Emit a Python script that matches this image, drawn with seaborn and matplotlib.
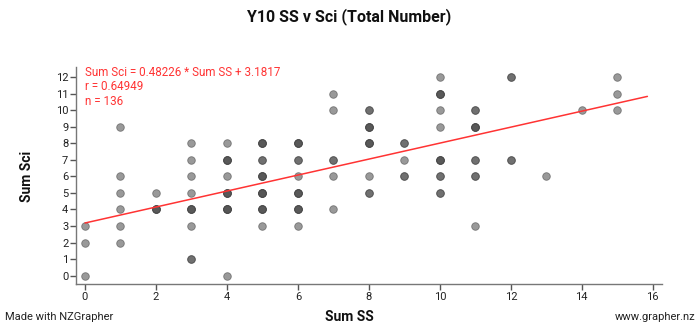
import numpy as np
import pandas as pd
import matplotlib
matplotlib.use("Agg")
import matplotlib.pyplot as plt
import seaborn as sns

# Unique (Sum SS, Sum Sci) locations with estimated counts (overlap darkness)
ss_vals = [0, 0, 0,
           1, 1, 1, 1, 1, 1,
           2, 2,
           3, 3, 3, 3, 3, 3, 3,
           4, 4, 4, 4, 4, 4,
           5, 5, 5, 5, 5, 5,
           6, 6, 6, 6, 6, 6,
           7, 7, 7, 7, 7,
           8, 8, 8, 8, 8,
           9, 9, 9,
           10, 10, 10, 10, 10, 10, 10,
           11, 11, 11, 11, 11,
           12, 12,
           13, 14,
           15, 15, 15]
sci_vals = [3, 2, 0,
            9, 6, 5, 4, 3, 2,
            5, 4,
            8, 7, 6, 5, 4, 3, 1,
            8, 7, 6, 5, 4, 0,
            8, 7, 6, 5, 4, 3,
            8, 7, 6, 5, 4, 3,
            11, 10, 7, 6, 4,
            10, 9, 8, 6, 5,
            8, 7, 6,
            12, 11, 10, 9, 7, 6, 5,
            10, 9, 7, 6, 3,
            12, 7,
            6, 10,
            12, 11, 10]
counts = [1, 1, 1,
          1, 1, 1, 1, 1, 1,
          1, 4,
          1, 1, 1, 1, 4, 1, 2,
          1, 4, 1, 4, 5, 1,
          4, 2, 4, 5, 4, 1,
          4, 2, 1, 4, 4, 1,
          1, 1, 2, 1, 1,
          2, 4, 4, 1, 2,
          2, 1, 2,
          1, 4, 1, 1, 4, 2, 2,
          2, 4, 2, 2, 1,
          2, 2,
          1, 1,
          1, 1, 1]

slope = 0.48226
intercept = 3.1817
r_value = 0.64949
x_ticks = list(range(0, 17, 2))
y_ticks = list(range(0, 13))

df = pd.DataFrame({"Sum SS": np.repeat(ss_vals, counts),
                   "Sum Sci": np.repeat(sci_vals, counts)})
n = len(df)

sns.set_style("white")
plt.rcParams['font.family'] = ['Roboto', 'DejaVu Sans']

fig = plt.figure(figsize=(6.99, 3.28), dpi=100)
ax = fig.add_axes([0.1087, 0.1332, 0.9475 - 0.1087, 0.7957 - 0.1332])

sns.scatterplot(data=df, x="Sum SS", y="Sum Sci", ax=ax, color="#555555",
                alpha=0.6, s=30, edgecolor="#444444", linewidth=0.6, zorder=2)

xl = np.array([0, 15.85])
ax.plot(xl, slope * xl + intercept, color="#ff3333", lw=1.1, zorder=3)

ax.set_xlim(-0.254, 16.27)
ax.set_ylim(-0.52, 12.6)
ax.set_xticks(x_ticks)
ax.set_yticks(y_ticks)
for s in ["top", "right"]:
    ax.spines[s].set_visible(False)
for s in ["left", "bottom"]:
    ax.spines[s].set_color("#777777")
    ax.spines[s].set_linewidth(1.0)
ax.tick_params(axis="both", which="major", direction="out", length=4, width=1,
               color="#555555", labelsize=8, labelcolor="#222222", pad=1.5,
               left=True, bottom=True)
ax.set_xlabel("")
ax.set_ylabel("")

fig.text(85 / 699, 1 - 66 / 328,
         f"Sum Sci = {slope} * Sum SS + {intercept}\nr = {r_value}\nn = {n}",
         color="#ff3333", fontsize=8.4, va="top", ha="left", linespacing=1.15)
fig.text(0.5, 1 - 17 / 328, "Y10 SS v Sci (Total Number)", ha="center", va="center",
         fontsize=11.5, fontweight="bold", color="#111111")
fig.text(0.5, 1 - 317 / 328, "Sum SS", ha="center", va="center",
         fontsize=10, fontweight="bold", color="#111111")
fig.text(27 / 699, 1 - 176 / 328, "Sum Sci", ha="center", va="center", rotation=90,
         fontsize=10, fontweight="bold", color="#111111")
fig.text(5 / 699, 1 - 317 / 328, "Made with NZGrapher", ha="left", va="center",
         fontsize=8, color="#222222")
fig.text(695 / 699, 1 - 317 / 328, "www.grapher.nz", ha="right", va="center",
         fontsize=8, color="#222222")

fig.savefig("out.png", dpi=100)
